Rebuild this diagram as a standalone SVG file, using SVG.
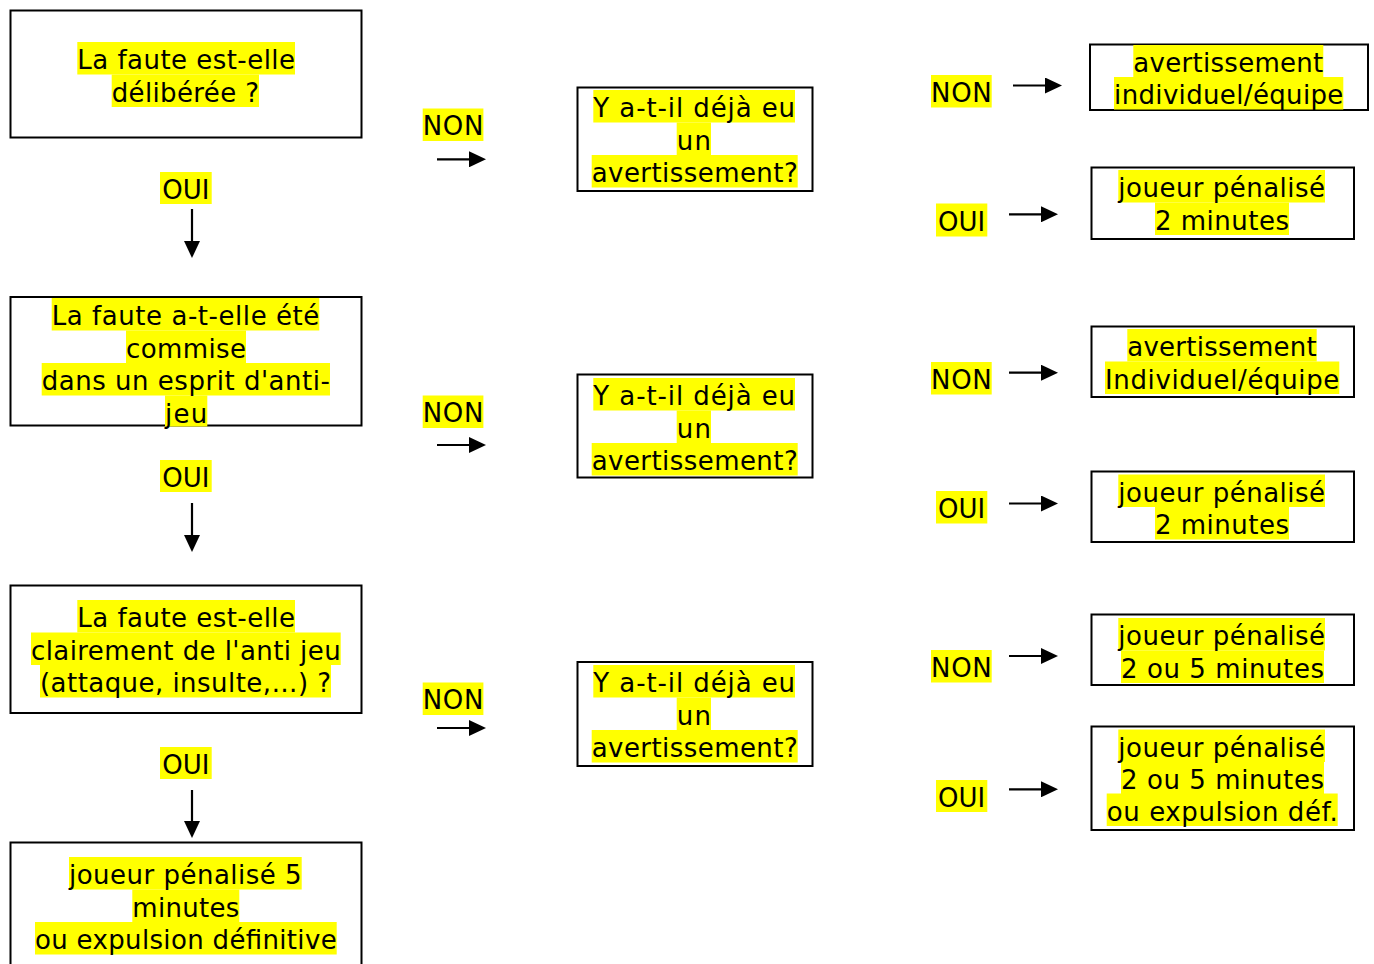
<svg xmlns="http://www.w3.org/2000/svg" width="1374" height="964" viewBox="0 0 1374 964">
<style>
.bg{fill:#ffffff}
.box{fill:#ffffff;stroke:#000000;stroke-width:2}
.hl{fill:#ffff00}
.t{font-family:"DejaVu Sans",Verdana,sans-serif;font-size:26px;fill:#000000;text-anchor:middle}
.c{stroke:#000000;stroke-width:2.2;fill:none;marker-end:url(#ah)}
</style>
<defs>
<marker id="ah" markerUnits="userSpaceOnUse" markerWidth="17" markerHeight="16" refX="9" refY="8" orient="auto" viewBox="0 0 17 16">
<path d="M0,0 L17,8 L0,16 Z" fill="#000000"/>
</marker>
</defs>
<rect class="bg" x="0" y="0" width="1374" height="964"/>

<g id="n1">
<rect class="box" x="10.5" y="10.5" width="351" height="127"/>
<rect class="hl" x="77.3" y="42" width="217.7" height="32.5"/>
<rect class="hl" x="111.7" y="74.5" width="147.3" height="32.5"/>
<text class="t" x="186.2" y="69" textLength="217.7" lengthAdjust="spacing">La faute est-elle</text>
<text class="t" x="185.3" y="101.5" textLength="147.3" lengthAdjust="spacing">délibérée ?</text>
</g>

<g id="n2">
<rect class="box" x="10.5" y="297" width="351" height="128.5"/>
<rect class="hl" x="51.7" y="298" width="267.6" height="32.5"/>
<rect class="hl" x="126" y="330.5" width="120" height="32.5"/>
<rect class="hl" x="41.7" y="363" width="288.3" height="32.5"/>
<rect class="hl" x="165" y="395.5" width="42.3" height="31"/>
<text class="t" x="185.5" y="325" textLength="267.6" lengthAdjust="spacing">La faute a-t-elle été</text>
<text class="t" x="186" y="357.5" textLength="120" lengthAdjust="spacing">commise</text>
<text class="t" x="185.8" y="390" textLength="288.3" lengthAdjust="spacing">dans un esprit d'anti-</text>
<text class="t" x="186.2" y="422.5" textLength="42.3" lengthAdjust="spacing">jeu</text>
</g>

<g id="n3">
<rect class="box" x="10.5" y="585.5" width="351" height="127.5"/>
<rect class="hl" x="77.3" y="600" width="217.7" height="32.5"/>
<rect class="hl" x="31" y="632.5" width="309.7" height="32.5"/>
<rect class="hl" x="40" y="665" width="291" height="32.5"/>
<text class="t" x="186.2" y="627" textLength="217.7" lengthAdjust="spacing">La faute est-elle</text>
<text class="t" x="185.8" y="659.5" textLength="309.7" lengthAdjust="spacing">clairement de l'anti jeu</text>
<text class="t" x="185.5" y="692" textLength="291" lengthAdjust="spacing">(attaque, insulte,…) ?</text>
</g>

<g id="n4">
<rect class="box" x="10.5" y="842.5" width="351" height="140"/>
<rect class="hl" x="69" y="857" width="232.7" height="32.5"/>
<rect class="hl" x="132.3" y="889.5" width="107" height="32.5"/>
<rect class="hl" x="35" y="922" width="301.7" height="32.5"/>
<text class="t" x="185.3" y="884" textLength="232.7" lengthAdjust="spacing">joueur pénalisé 5</text>
<text class="t" x="185.8" y="916.5" textLength="107" lengthAdjust="spacing">minutes</text>
<text class="t" x="185.8" y="949" textLength="301.7" lengthAdjust="spacing">ou expulsion définitive</text>
</g>

<g id="m1">
<rect class="box" x="577.5" y="87.5" width="235" height="103.5"/>
<rect class="hl" x="593.3" y="90" width="201.7" height="32.5"/>
<rect class="hl" x="676.7" y="122.5" width="34.3" height="32.5"/>
<rect class="hl" x="591.7" y="155" width="206" height="32.5"/>
<text class="t" x="694.2" y="117" textLength="201.7" lengthAdjust="spacing">Y a-t-il déjà eu</text>
<text class="t" x="693.8" y="149.5" textLength="34.3" lengthAdjust="spacing">un</text>
<text class="t" x="694.7" y="182" textLength="206" lengthAdjust="spacing">avertissement?</text>
</g>

<g id="m2">
<rect class="box" x="577.5" y="374.5" width="235" height="103"/>
<rect class="hl" x="593.3" y="378" width="201.7" height="32.5"/>
<rect class="hl" x="676.7" y="410.5" width="34.3" height="32.5"/>
<rect class="hl" x="591.7" y="443" width="206" height="32.5"/>
<text class="t" x="694.2" y="405" textLength="201.7" lengthAdjust="spacing">Y a-t-il déjà eu</text>
<text class="t" x="693.8" y="437.5" textLength="34.3" lengthAdjust="spacing">un</text>
<text class="t" x="694.7" y="470" textLength="206" lengthAdjust="spacing">avertissement?</text>
</g>

<g id="m3">
<rect class="box" x="577.5" y="662" width="235" height="104"/>
<rect class="hl" x="593.3" y="665" width="201.7" height="32.5"/>
<rect class="hl" x="676.7" y="697.5" width="34.3" height="32.5"/>
<rect class="hl" x="591.7" y="730" width="206" height="32.5"/>
<text class="t" x="694.2" y="692" textLength="201.7" lengthAdjust="spacing">Y a-t-il déjà eu</text>
<text class="t" x="693.8" y="724.5" textLength="34.3" lengthAdjust="spacing">un</text>
<text class="t" x="694.7" y="757" textLength="206" lengthAdjust="spacing">avertissement?</text>
</g>

<g id="r1">
<rect class="box" x="1090" y="44.5" width="278" height="65.5"/>
<rect class="hl" x="1133.3" y="45" width="190" height="32"/>
<rect class="hl" x="1114" y="77" width="229.3" height="32.5"/>
<text class="t" x="1228.3" y="71.5" textLength="190" lengthAdjust="spacing">avertissement</text>
<text class="t" x="1228.7" y="104" textLength="229.3" lengthAdjust="spacing">individuel/équipe</text>
</g>

<g id="r2">
<rect class="box" x="1091.5" y="167.5" width="262.5" height="71.5"/>
<rect class="hl" x="1118.3" y="170" width="206.7" height="32.5"/>
<rect class="hl" x="1155" y="202.5" width="134" height="32.5"/>
<text class="t" x="1221.7" y="197" textLength="206.7" lengthAdjust="spacing">joueur pénalisé</text>
<text class="t" x="1222" y="229.5" textLength="134" lengthAdjust="spacing">2 minutes</text>
</g>

<g id="r3">
<rect class="box" x="1091.5" y="326.5" width="262.5" height="70.5"/>
<rect class="hl" x="1127.3" y="329" width="189.4" height="32.5"/>
<rect class="hl" x="1105" y="361.5" width="234.3" height="32.5"/>
<text class="t" x="1222" y="356" textLength="189.4" lengthAdjust="spacing">avertissement</text>
<text class="t" x="1222.2" y="388.5" textLength="234.3" lengthAdjust="spacing">Individuel/équipe</text>
</g>

<g id="r4">
<rect class="box" x="1091.5" y="471.5" width="262.5" height="70.5"/>
<rect class="hl" x="1118.3" y="474.5" width="206.7" height="32.5"/>
<rect class="hl" x="1155" y="507" width="134" height="32.5"/>
<text class="t" x="1221.7" y="501.5" textLength="206.7" lengthAdjust="spacing">joueur pénalisé</text>
<text class="t" x="1222" y="534" textLength="134" lengthAdjust="spacing">2 minutes</text>
</g>

<g id="r5">
<rect class="box" x="1091.5" y="614.5" width="262.5" height="70.5"/>
<rect class="hl" x="1118.3" y="618" width="206.7" height="32.5"/>
<rect class="hl" x="1121" y="650.5" width="203" height="32.5"/>
<text class="t" x="1221.7" y="645" textLength="206.7" lengthAdjust="spacing">joueur pénalisé</text>
<text class="t" x="1222.5" y="677.5" textLength="203" lengthAdjust="spacing">2 ou 5 minutes</text>
</g>

<g id="r6">
<rect class="box" x="1091.5" y="726.5" width="262.5" height="103.5"/>
<rect class="hl" x="1118.3" y="729.5" width="206.7" height="32.5"/>
<rect class="hl" x="1121" y="761.5" width="203" height="32.5"/>
<rect class="hl" x="1106.7" y="793.5" width="231" height="32.5"/>
<text class="t" x="1221.7" y="756.5" textLength="206.7" lengthAdjust="spacing">joueur pénalisé</text>
<text class="t" x="1222.5" y="788.5" textLength="203" lengthAdjust="spacing">2 ou 5 minutes</text>
<text class="t" x="1222.2" y="820.5" textLength="231" lengthAdjust="spacing">ou expulsion déf.</text>
</g>

<g id="labels">
<rect class="hl" x="160" y="172" width="51.7" height="32"/>
<text class="t" x="185.8" y="199">OUI</text>
<rect class="hl" x="160" y="460" width="51.7" height="32"/>
<text class="t" x="185.8" y="487">OUI</text>
<rect class="hl" x="160" y="747" width="51.7" height="32"/>
<text class="t" x="185.8" y="774">OUI</text>
<rect class="hl" x="422.7" y="108.5" width="60.7" height="32.5"/>
<text class="t" x="453" y="135" textLength="60.7" lengthAdjust="spacing">NON</text>
<rect class="hl" x="422.7" y="395.5" width="60.7" height="32.5"/>
<text class="t" x="453" y="422" textLength="60.7" lengthAdjust="spacing">NON</text>
<rect class="hl" x="422.7" y="682.5" width="60.7" height="32.5"/>
<text class="t" x="453" y="709" textLength="60.7" lengthAdjust="spacing">NON</text>
<rect class="hl" x="931" y="75" width="60.7" height="32.5"/>
<text class="t" x="961.4" y="102" textLength="60.7" lengthAdjust="spacing">NON</text>
<rect class="hl" x="931" y="362" width="60.7" height="32.5"/>
<text class="t" x="961.4" y="389" textLength="60.7" lengthAdjust="spacing">NON</text>
<rect class="hl" x="931" y="650" width="60.7" height="32.5"/>
<text class="t" x="961.4" y="677" textLength="60.7" lengthAdjust="spacing">NON</text>
<rect class="hl" x="936" y="203.5" width="51.3" height="33"/>
<text class="t" x="961.7" y="230.5">OUI</text>
<rect class="hl" x="936" y="491" width="51.3" height="32.5"/>
<text class="t" x="961.7" y="518">OUI</text>
<rect class="hl" x="936" y="780" width="51.3" height="32"/>
<text class="t" x="961.7" y="807">OUI</text>
</g>

<g id="connectors">
<line class="c" x1="192" y1="209" x2="192" y2="250"/>
<line class="c" x1="192" y1="503" x2="192" y2="544"/>
<line class="c" x1="192" y1="790" x2="192" y2="830"/>
<line class="c" x1="437" y1="159.3" x2="478" y2="159.3"/>
<line class="c" x1="437" y1="445" x2="478" y2="445"/>
<line class="c" x1="437" y1="728" x2="478" y2="728"/>
<line class="c" x1="1013" y1="85.5" x2="1054" y2="85.5"/>
<line class="c" x1="1009" y1="214.3" x2="1050" y2="214.3"/>
<line class="c" x1="1009" y1="372.7" x2="1050" y2="372.7"/>
<line class="c" x1="1009" y1="503.5" x2="1050" y2="503.5"/>
<line class="c" x1="1009" y1="656" x2="1050" y2="656"/>
<line class="c" x1="1009" y1="789.3" x2="1050" y2="789.3"/>
</g>
</svg>
